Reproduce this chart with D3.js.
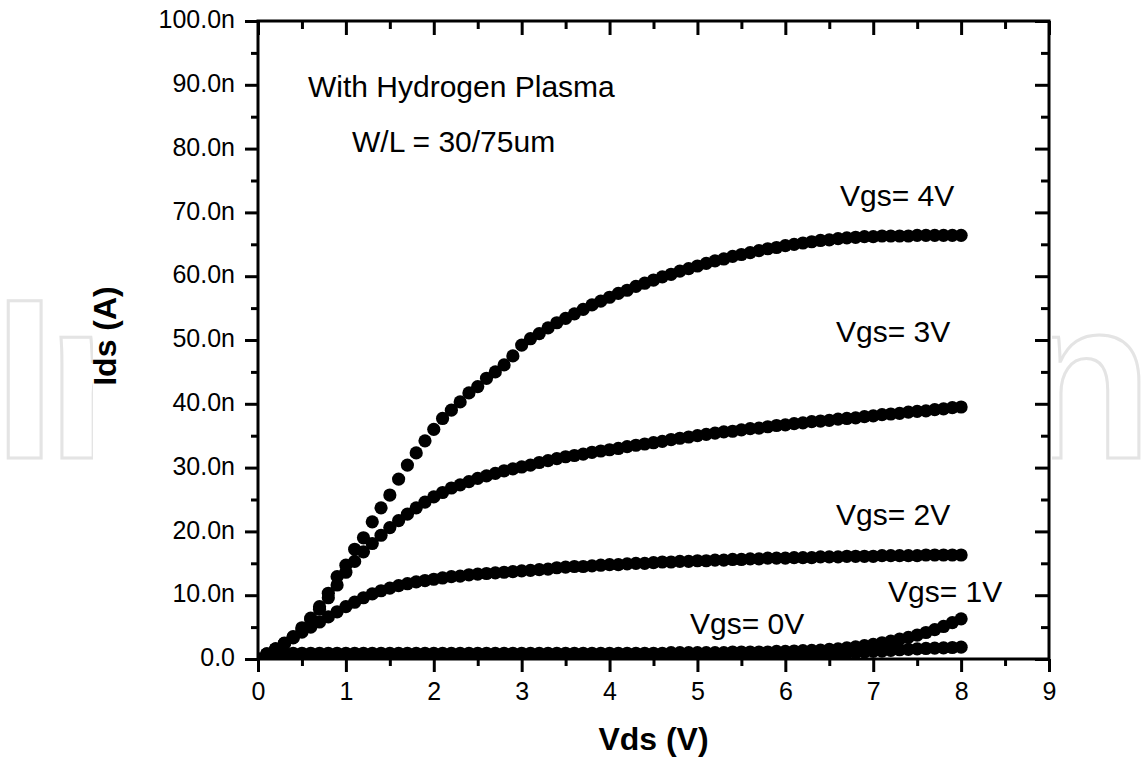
<!DOCTYPE html>
<html>
<head>
<meta charset="utf-8">
<script src="https://cdn.jsdelivr.net/npm/d3@7"></script>
<style>
  html, body { margin: 0; padding: 0; background: #fff; }
  svg { display: block; }
  text { font-family: "Liberation Sans", Arial, Helvetica, sans-serif; fill: #000; }
</style>
</head>
<body>
<svg id="chart" width="1143" height="760"></svg>
<script>
// Drain voltage sweep (V)
const vds = [
  0.0,0.1,0.2,0.3,0.4,0.5,0.6,0.7,0.8,0.9,
  1.0,1.1,1.2,1.3,1.4,1.5,1.6,1.7,1.8,1.9,
  2.0,2.1,2.2,2.3,2.4,2.5,2.6,2.7,2.8,2.9,
  3.0,3.1,3.2,3.3,3.4,3.5,3.6,3.7,3.8,3.9,
  4.0,4.1,4.2,4.3,4.4,4.5,4.6,4.7,4.8,4.9,
  5.0,5.1,5.2,5.3,5.4,5.5,5.6,5.7,5.8,5.9,
  6.0,6.1,6.2,6.3,6.4,6.5,6.6,6.7,6.8,6.9,
  7.0,7.1,7.2,7.3,7.4,7.5,7.6,7.7,7.8,7.9,
  8.0
];

// Drain current (nA) for each gate voltage
const idsVgs4 = [
  0.0,0.8,1.6,2.5,3.5,4.9,6.4,8.2,10.3,12.9,
  14.7,17.2,19.0,21.5,23.7,25.7,28.2,30.4,32.3,34.2,
  36.0,37.7,39.0,40.3,41.7,42.7,44.0,45.0,46.1,47.5,
  49.2,50.2,51.0,51.9,52.7,53.4,54.1,54.8,55.5,56.1,
  56.7,57.3,57.8,58.4,58.9,59.4,59.9,60.3,60.8,61.2,
  61.6,62.0,62.4,62.7,63.1,63.4,63.7,64.0,64.3,64.5,
  64.8,65.0,65.2,65.4,65.6,65.7,65.9,66.0,66.1,66.2,
  66.2,66.3,66.3,66.3,66.3,66.4,66.4,66.4,66.4,66.4,
  66.4
];
const idsVgs3 = [
  0.0,0.7,1.5,2.4,3.4,4.7,6.2,7.8,9.6,11.6,
  13.6,15.3,16.8,18.1,19.4,20.6,21.7,22.7,23.7,24.6,
  25.4,26.1,26.8,27.3,27.8,28.3,28.7,29.1,29.5,29.8,
  30.1,30.4,30.8,31.1,31.4,31.7,31.9,32.1,32.4,32.6,
  32.8,33.0,33.3,33.5,33.7,33.9,34.1,34.4,34.6,34.8,
  35.0,35.2,35.4,35.6,35.7,35.9,36.1,36.2,36.4,36.6,
  36.7,36.9,37.0,37.2,37.3,37.4,37.6,37.7,37.8,38.0,
  38.1,38.3,38.4,38.5,38.7,38.8,38.9,39.1,39.2,39.4,
  39.5
];
const idsVgs2 = [
  0.0,0.8,1.6,2.4,3.3,4.2,5.0,5.8,6.6,7.4,
  8.2,8.9,9.6,10.2,10.7,11.1,11.5,11.8,12.1,12.3,
  12.5,12.7,12.9,13.0,13.2,13.3,13.4,13.5,13.6,13.7,
  13.8,13.9,14.0,14.1,14.3,14.4,14.5,14.5,14.6,14.7,
  14.8,14.8,14.9,15.0,15.0,15.1,15.2,15.2,15.3,15.3,
  15.4,15.4,15.5,15.5,15.6,15.6,15.7,15.7,15.8,15.8,
  15.8,15.9,15.9,15.9,16.0,16.0,16.0,16.1,16.1,16.1,
  16.1,16.2,16.2,16.2,16.2,16.2,16.3,16.3,16.3,16.3,
  16.3
];
const idsVgs1 = [
  0.0,0.4,0.7,0.8,0.9,0.9,0.9,0.9,0.9,0.9,
  0.9,0.9,0.9,0.9,0.9,0.9,0.9,0.9,0.9,0.9,
  0.9,0.9,0.9,0.9,0.9,0.9,0.9,0.9,0.9,0.9,
  0.9,0.9,0.9,0.9,0.9,0.9,0.9,0.9,0.9,0.9,
  0.9,0.9,0.9,0.9,0.9,0.9,0.9,1.0,1.0,1.0,
  1.0,1.0,1.0,1.0,1.1,1.1,1.1,1.1,1.1,1.2,
  1.2,1.25,1.3,1.35,1.4,1.5,1.6,1.75,1.9,2.1,
  2.3,2.55,2.8,3.1,3.4,3.75,4.15,4.6,5.1,5.7,
  6.3
];
const idsVgs0 = [
  0.0,0.2,0.3,0.3,0.3,0.3,0.3,0.3,0.3,0.3,
  0.3,0.3,0.3,0.3,0.3,0.3,0.3,0.3,0.3,0.3,
  0.3,0.3,0.3,0.3,0.3,0.3,0.3,0.3,0.3,0.3,
  0.3,0.3,0.3,0.3,0.3,0.3,0.3,0.3,0.3,0.3,
  0.3,0.3,0.3,0.3,0.3,0.3,0.3,0.3,0.3,0.3,
  0.3,0.3,0.3,0.35,0.35,0.4,0.4,0.45,0.45,0.5,
  0.5,0.55,0.6,0.65,0.7,0.8,0.85,0.95,1.0,1.1,
  1.2,1.25,1.35,1.45,1.5,1.6,1.65,1.7,1.75,1.8,
  1.85
];

const seriesNames = ["Vgs= 0V", "Vgs= 1V", "Vgs= 2V", "Vgs= 3V", "Vgs= 4V"];
const seriesValues = [idsVgs0, idsVgs1, idsVgs2, idsVgs3, idsVgs4];

// Axis ticks
const xMajorTicks = [0, 1, 2, 3, 4, 5, 6, 7, 8, 9];
const xMinorTicks = [0.5, 1.5, 2.5, 3.5, 4.5, 5.5, 6.5, 7.5, 8.5];
const yMajorTicks = [0, 10, 20, 30, 40, 50, 60, 70, 80, 90, 100];
const yMinorTicks = [5, 15, 25, 35, 45, 55, 65, 75, 85, 95];
const yTickLabels = ["0.0", "10.0n", "20.0n", "30.0n", "40.0n", "50.0n",
                     "60.0n", "70.0n", "80.0n", "90.0n", "100.0n"];

// Text annotations
const noteLines = ["With Hydrogen Plasma", "W/L = 30/75um"];
const xTitle = "Vds (V)";
const yTitle = "Ids (A)";
const watermark = "IntechOpen";

// ---------------------------------------------------------------
const svg = d3.select("#chart");
const W = 1143, H = 760;
const plot = { left: 258, right: 1049, top: 21, bottom: 659 };
const figure = { left: 93, right: 1052 };

const x = d3.scaleLinear().domain([0, 9]).range([plot.left, plot.right]);
const y = d3.scaleLinear().domain([0, 100]).range([plot.bottom, plot.top]);

svg.append("rect").attr("width", W).attr("height", H).attr("fill", "#fff");

const defs = svg.append("defs");
// the outlined mark only shows on both margins beside the figure
const markClip = defs.append("clipPath").attr("id", "markClip");
markClip.append("rect").attr("x", 0).attr("y", 0).attr("width", figure.left).attr("height", H);
markClip.append("rect").attr("x", figure.right).attr("y", 0).attr("width", W - figure.right).attr("height", H);

defs.append("clipPath").attr("id", "plotClip")
  .append("rect")
  .attr("x", plot.left).attr("y", plot.top)
  .attr("width", plot.right - plot.left).attr("height", plot.bottom - plot.top);

// faint outlined publisher mark
svg.append("g").attr("clip-path", "url(#markClip)")
  .append("text")
  .attr("x", -7).attr("y", 458)
  .attr("textLength", 1160).attr("lengthAdjust", "spacing")
  .style("font-size", "228px").style("font-weight", "bold")
  .style("fill", "none").style("stroke", "#e4e4e4").style("stroke-width", 3)
  .text(watermark);

// data markers
const gData = svg.append("g").attr("clip-path", "url(#plotClip)");
seriesValues.forEach((vals, si) => {
  gData.append("g").attr("class", "series s" + si)
    .selectAll("circle")
    .data(vds.map((v, i) => ({ v, i: vals[i] })))
    .join("circle")
    .attr("cx", d => x(d.v))
    .attr("cy", d => y(d.i))
    .attr("r", 6.6)
    .attr("fill", "#000");
});

// axes
function styleAxis(g) {
  g.select(".domain").remove();
  g.selectAll(".tick line").attr("stroke", "#000").attr("stroke-width", 3);
}

const fontTick = "25px";

// bottom (outward ticks, labels)
svg.append("g").attr("transform", `translate(0,${plot.bottom})`)
  .call(d3.axisBottom(x).tickValues(xMajorTicks).tickSize(13).tickPadding(10)
        .tickFormat(d3.format("d")))
  .call(styleAxis)
  .call(g => g.selectAll("text").style("font-size", fontTick).attr("dy", "0.71em"));
svg.append("g").attr("transform", `translate(0,${plot.bottom})`)
  .call(d3.axisBottom(x).tickValues(xMinorTicks).tickSize(7).tickFormat(""))
  .call(styleAxis);

// left (outward ticks, labels)
svg.append("g").attr("transform", `translate(${plot.left},0)`)
  .call(d3.axisLeft(y).tickValues(yMajorTicks).tickSize(13).tickPadding(10)
        .tickFormat((d, i) => yTickLabels[i]))
  .call(styleAxis)
  .call(g => g.selectAll("text").style("font-size", fontTick).attr("dy", "0.27em"));
svg.append("g").attr("transform", `translate(${plot.left},0)`)
  .call(d3.axisLeft(y).tickValues(yMinorTicks).tickSize(7).tickFormat(""))
  .call(styleAxis);

// top (inward ticks)
svg.append("g").attr("transform", `translate(0,${plot.top})`)
  .call(d3.axisTop(x).tickValues(xMajorTicks).tickSize(-14).tickFormat(""))
  .call(styleAxis);
svg.append("g").attr("transform", `translate(0,${plot.top})`)
  .call(d3.axisTop(x).tickValues(xMinorTicks).tickSize(-8).tickFormat(""))
  .call(styleAxis);

// right (inward ticks)
svg.append("g").attr("transform", `translate(${plot.right},0)`)
  .call(d3.axisRight(y).tickValues(yMajorTicks).tickSize(-14).tickFormat(""))
  .call(styleAxis);
svg.append("g").attr("transform", `translate(${plot.right},0)`)
  .call(d3.axisRight(y).tickValues(yMinorTicks).tickSize(-8).tickFormat(""))
  .call(styleAxis);

// frame
svg.append("rect")
  .attr("x", plot.left).attr("y", plot.top)
  .attr("width", plot.right - plot.left).attr("height", plot.bottom - plot.top)
  .attr("fill", "none").attr("stroke", "#000").attr("stroke-width", 3);

// axis titles
svg.append("text")
  .attr("x", (plot.left + plot.right) / 2).attr("y", 750)
  .attr("text-anchor", "middle")
  .style("font-size", "32px").style("font-weight", "bold")
  .text(xTitle);
svg.append("text")
  .attr("transform", "translate(116,336) rotate(-90)")
  .attr("text-anchor", "middle")
  .style("font-size", "32px").style("font-weight", "bold")
  .text(yTitle);

// notes
const notePos = [[308, 97], [352, 152]];
noteLines.forEach((t, i) => {
  svg.append("text").attr("x", notePos[i][0]).attr("y", notePos[i][1])
    .style("font-size", "30px").text(t);
});

// curve labels
const labelPos = [[690, 634], [888, 602], [836, 525], [836, 342], [840, 206]];
seriesNames.forEach((t, i) => {
  svg.append("text").attr("x", labelPos[i][0]).attr("y", labelPos[i][1])
    .style("font-size", "30px").text(t);
});
</script>
</body>
</html>
